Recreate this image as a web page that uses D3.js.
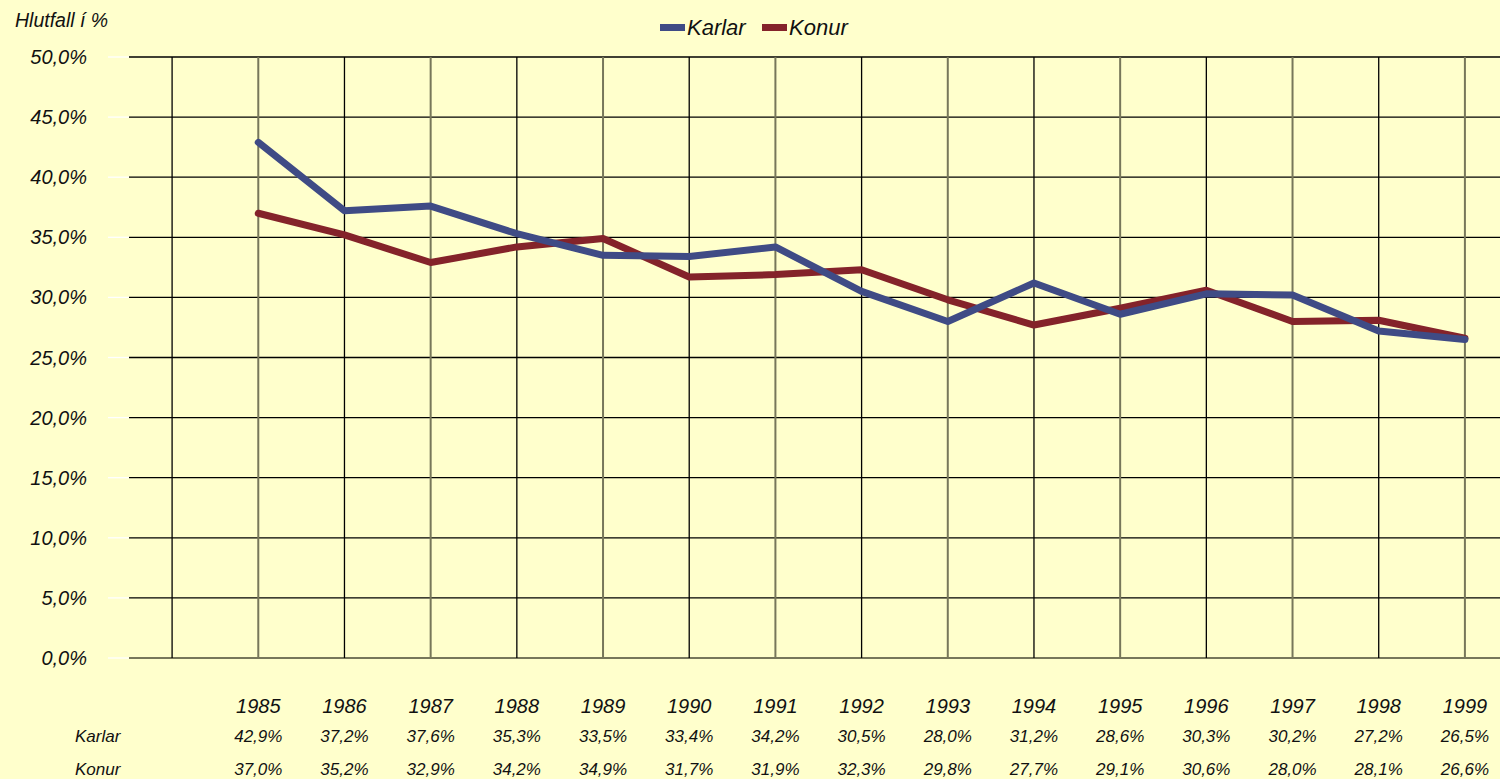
<!DOCTYPE html>
<html lang="en">
<head>
    <meta charset="UTF-8">
    <title>Hlutfall</title>
    <script src="https://cdn.jsdelivr.net/npm/d3@7"></script>
    <style>
        body { margin: 0; background: #ffffcc; }
        text { font-family: "Liberation Sans", Arial, sans-serif; font-style: italic; fill: #111; }
    </style>
</head>
<body>
    <svg id="main" width="1500" height="779"></svg>
    <script>
        // data
        let years = ['1985','1986','1987','1988','1989','1990','1991','1992','1993','1994','1995','1996','1997','1998','1999'];
        let karlar = [42.9, 37.2, 37.6, 35.3, 33.5, 33.4, 34.2, 30.5, 28.0, 31.2, 28.6, 30.3, 30.2, 27.2, 26.5];
        let konur = [37.0, 35.2, 32.9, 34.2, 34.9, 31.7, 31.9, 32.3, 29.8, 27.7, 29.1, 30.6, 28.0, 28.1, 26.6];
        let yTicks = [0, 5, 10, 15, 20, 25, 30, 35, 40, 45, 50];
        let seriesNames = ['Karlar', 'Konur'];
        let colors = ['#3f4b85', '#84232a'];

        let svg = d3.select('svg#main');
        let fmt = function(v){ return v.toFixed(1).replace('.', ',') + '%'; };

        // x scale: index -1.5 .. 14.5 (one empty slot before 1985)
        let xScale = d3.scaleLinear().domain([-1.5, 14.5]).range([129, 1508]);
        let yScale = d3.scaleLinear().domain([0, 50]).range([658, 57]);

        // horizontal grid
        svg.append('g').selectAll('line')
            .data(yTicks)
            .enter()
            .append('line')
            .attr('x1', 129).attr('x2', 1500)
            .attr('y1', d => yScale(d)).attr('y2', d => yScale(d))
            .attr('stroke', d => d === 0 ? '#77775a' : '#000')
            .attr('stroke-width', d => d === 0 ? 2 : 1.3);

        // white tick marks left of the plot
        svg.append('g').selectAll('line')
            .data(yTicks)
            .enter()
            .append('line')
            .attr('x1', 108).attr('x2', 129)
            .attr('y1', d => yScale(d)).attr('y2', d => yScale(d))
            .attr('stroke', '#fff').attr('stroke-width', 1.3);

        // vertical grid
        let vIdx = d3.range(-1, 15);
        svg.append('g').selectAll('line')
            .data(vIdx)
            .enter()
            .append('line')
            .attr('x1', d => xScale(d)).attr('x2', d => xScale(d))
            .attr('y1', yScale(50)).attr('y2', yScale(0))
            .attr('stroke', d => (d % 2 === 0) ? '#77775a' : '#000')
            .attr('stroke-width', d => (d % 2 === 0) ? 2 : 1.3);

        // y axis labels
        svg.append('g').selectAll('text')
            .data(yTicks)
            .enter()
            .append('text')
            .attr('x', 87)
            .attr('y', d => yScale(d) + 7)
            .attr('text-anchor', 'end')
            .style('font-size', '20px')
            .text(d => d.toFixed(1).replace('.', ',') + '%');

        svg.append('text')
            .attr('x', 15).attr('y', 27)
            .style('font-size', '19.5px')
            .text('Hlutfall í %');

        // lines
        let line = d3.line()
            .x((d, i) => xScale(i))
            .y(d => yScale(d));

        svg.selectAll('path.series')
            .data([konur, karlar])
            .enter()
            .append('path')
            .attr('class', 'series')
            .attr('d', line)
            .attr('fill', 'none')
            .attr('stroke', (d, i) => colors[1 - i])
            .attr('stroke-width', 7)
            .attr('stroke-linejoin', 'round')
            .attr('stroke-linecap', 'round');

        // legend
        let legend = svg.append('g');
        let legendX = [660, 762];
        seriesNames.forEach(function(name, i){
            legend.append('rect')
                .attr('x', legendX[i]).attr('y', 24)
                .attr('width', 25).attr('height', 7)
                .attr('fill', colors[i]);
            legend.append('text')
                .attr('x', legendX[i] + 27).attr('y', 35)
                .style('font-size', '22px')
                .text(name);
        });

        // data table below the chart
        svg.append('g').selectAll('text')
            .data(years)
            .enter()
            .append('text')
            .attr('x', (d, i) => xScale(i))
            .attr('y', 713)
            .attr('text-anchor', 'middle')
            .style('font-size', '20px')
            .text(d => d);

        [karlar, konur].forEach(function(vals, r){
            let yPos = 742 + r * 33;
            svg.append('text')
                .attr('x', 75).attr('y', yPos)
                .style('font-size', '17px')
                .text(seriesNames[r]);
            svg.append('g').selectAll('text')
                .data(vals)
                .enter()
                .append('text')
                .attr('x', (d, i) => xScale(i))
                .attr('y', yPos)
                .attr('text-anchor', 'middle')
                .style('font-size', '17px')
                .text(fmt);
        });
    </script>
</body>
</html>
